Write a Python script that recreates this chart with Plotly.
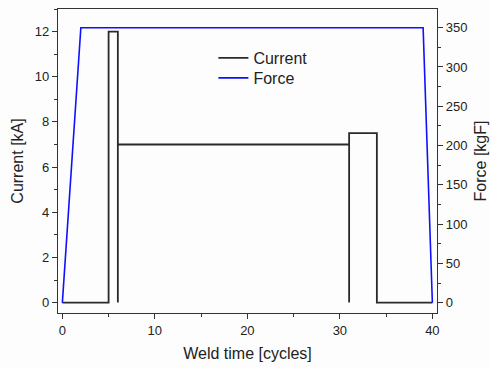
import plotly.graph_objects as go

# Data
current_t = [0, 5, 5, 6, 6, 6, 31, 31, 31, 34, 34, 40]
current_kA = [0, 0, 12, 12, 0, 7, 7, 0, 7.5, 7.5, 0, 0]
force_t = [0, 2, 39, 40]
force_kgf = [0, 350, 350, 0]

FONT = "Arial, Liberation Sans, sans-serif"
AX = "#333333"

fig = go.Figure()
fig.add_trace(go.Scatter(x=current_t, y=current_kA, mode="lines", name="Current",
                         line=dict(color="#2a2a2a", width=1.8), yaxis="y", legend="legend"))
fig.add_trace(go.Scatter(x=force_t, y=force_kgf, mode="lines", name="Force",
                         line=dict(color="#1010ff", width=1.6), yaxis="y2", legend="legend2"))

leg = dict(xanchor="left", yanchor="top", bgcolor="rgba(0,0,0,0)",
           font=dict(size=16, family=FONT, color="#222"), itemwidth=30)

fig.update_layout(
    width=490, height=367,
    margin=dict(l=58, r=53, t=9, b=54, autoexpand=False),
    paper_bgcolor="#fdfdfd", plot_bgcolor="#fdfdfd",
    font=dict(family=FONT, size=13, color="#222"),
    showlegend=True,
    legend=dict(x=0.410, y=0.895, **leg),
    legend2=dict(x=0.410, y=0.829, **leg),
    xaxis=dict(range=[-0.47, 40.5], dtick=10, tick0=0, showgrid=False, zeroline=False,
               showline=True, linecolor=AX, linewidth=1.3, mirror=True,
               ticks="outside", ticklen=5, tickcolor=AX, tickwidth=1.3,
               minor=dict(dtick=5, ticks="outside", ticklen=3, tickcolor=AX, tickwidth=1.3),
               title=dict(text="Weld time [cycles]", font=dict(size=16), standoff=11)),
    yaxis=dict(range=[-0.46, 13.0], dtick=2, tick0=0, showgrid=False, zeroline=False,
               showline=True, linecolor=AX, linewidth=1.3,
               ticks="outside", ticklen=5, tickcolor=AX, tickwidth=1.3,
               minor=dict(dtick=1, ticks="outside", ticklen=3, tickcolor=AX, tickwidth=1.3),
               title=dict(text="Current [kA]", font=dict(size=16), standoff=7)),
    yaxis2=dict(range=[-13.1, 373.8], dtick=50, tick0=0, overlaying="y", side="right",
                showgrid=False, zeroline=False,
                showline=True, linecolor=AX, linewidth=1.3,
                ticks="outside", ticklen=5, tickcolor=AX, tickwidth=1.3,
                minor=dict(dtick=25, ticks="outside", ticklen=3, tickcolor=AX, tickwidth=1.3),
                title=dict(text="Force [kgF]", font=dict(size=16), standoff=8)),
)

fig.write_html("out.html", config={"displayModeBar": False},
               post_script="document.body.style.margin='0';")
